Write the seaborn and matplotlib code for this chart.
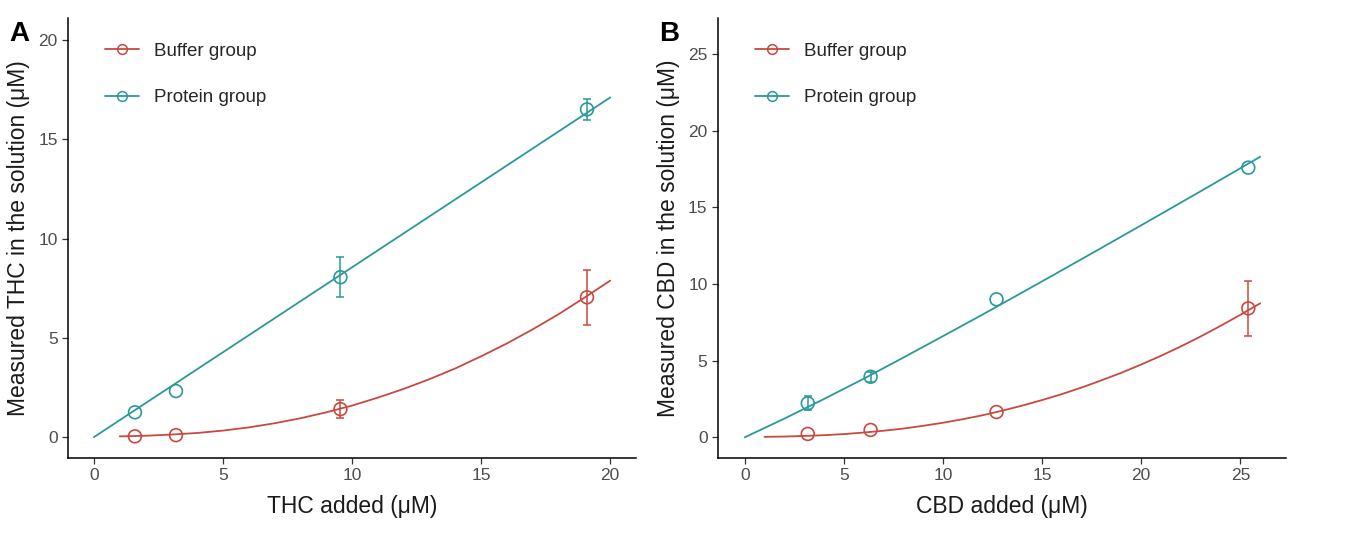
import matplotlib
matplotlib.use("Agg")
import matplotlib.pyplot as plt
from matplotlib.lines import Line2D
import seaborn as sns

# panel A - THC, measured points (mean +/- error, 0 = bar hidden by the marker)
thc_added = [1.59, 3.18, 9.55, 19.1]
thc_buffer = [0.04, 0.10, 1.41, 7.04]
thc_buffer_err = [0, 0, 0.46, 1.37]
thc_protein = [1.25, 2.32, 8.05, 16.5]
thc_protein_err = [0, 0, 1.00, 0.54]

# panel A - fitted curves
thc_fit_buffer_x = list(range(1, 21))
thc_fit_buffer_y = [0.04, 0.07, 0.13, 0.21, 0.33, 0.49, 0.70, 0.95, 1.25, 1.59,
                    1.99, 2.43, 2.92, 3.46, 4.07, 4.72, 5.43, 6.19, 7.02, 7.88]
thc_fit_protein_x = [0, 20]
thc_fit_protein_y = [0, 17.1]

# panel B - CBD, measured points
cbd_added = [3.18, 6.35, 12.7, 25.4]
cbd_buffer = [0.22, 0.48, 1.65, 8.41]
cbd_buffer_err = [0, 0, 0, 1.77]
cbd_protein = [2.22, 3.95, 9.0, 17.59]
cbd_protein_err = [0.45, 0.33, 0, 0]

# panel B - fitted curves
cbd_fit_buffer_x = list(range(1, 27))
cbd_fit_buffer_y = [0.03, 0.05, 0.09, 0.14, 0.21, 0.31, 0.43, 0.57, 0.75, 0.95,
                    1.18, 1.44, 1.74, 2.07, 2.43, 2.82, 3.25, 3.72, 4.21, 4.75,
                    5.32, 5.93, 6.58, 7.27, 7.99, 8.74]
cbd_fit_protein_x = [0, 2, 4, 6, 8, 10, 12, 14, 16, 18, 20, 22, 24, 26]
cbd_fit_protein_y = [0, 1.22, 2.50, 3.82, 5.20, 6.60, 8.01, 9.45, 10.90,
                     12.36, 13.83, 15.31, 16.80, 18.30]

group_names = ["Buffer group", "Protein group"]
red = "#C8493F"
teal = "#2A989C"

sns.set_theme(style="ticks")
plt.rcParams["font.family"] = ["Liberation Sans", "DejaVu Sans"]

fig = plt.figure(figsize=(13.45, 5.41), dpi=100)


def draw_bars(ax, x, y, err, color):
    # only the bars that stick out of the circles
    keep = [i for i in range(len(x)) if err[i] > 0]
    ax.errorbar([x[i] for i in keep], [y[i] for i in keep], yerr=[err[i] for i in keep],
                fmt="none", ecolor=color, elinewidth=1.1, capsize=3.2, capthick=1.1)


def draw_panel(ax, x, buf, buf_err, prot, prot_err, fbx, fby, fpx, fpy,
               xlabel, ylabel, ticks, lim, letter):
    sns.lineplot(x=fbx, y=fby, color=red, linewidth=1.3, ax=ax)
    sns.lineplot(x=fpx, y=fpy, color=teal, linewidth=1.3, ax=ax)
    draw_bars(ax, x, buf, buf_err, red)
    draw_bars(ax, x, prot, prot_err, teal)
    sns.scatterplot(x=x, y=buf, marker="o", s=85, facecolors="none", edgecolor=red, linewidth=1.2, ax=ax, zorder=5)
    sns.scatterplot(x=x, y=prot, marker="o", s=85, facecolors="none", edgecolor=teal, linewidth=1.2, ax=ax, zorder=5)

    ax.set_xlim(lim[0])
    ax.set_ylim(lim[1])
    ax.set_xticks(ticks)
    ax.set_yticks(ticks)
    ax.set_xlabel(xlabel, fontsize=16.5, color="#1a1a1a", labelpad=8)
    ax.set_ylabel(ylabel, fontsize=16.5, color="#1a1a1a", labelpad=6)
    ax.tick_params(direction="out", length=4, width=0.9, color="#333333",
                   labelcolor="#4D4D4D", labelsize=12.5)
    sns.despine(ax=ax)
    for s in ["left", "bottom"]:
        ax.spines[s].set_linewidth(1.1)
        ax.spines[s].set_color("black")

    handles = [
        Line2D([0], [0], color=red, lw=1.3, marker="o", markersize=7, markerfacecolor="none", markeredgewidth=1.1),
        Line2D([0], [0], color=teal, lw=1.3, marker="o", markersize=7, markerfacecolor="none", markeredgewidth=1.1),
    ]
    ax.legend(handles, group_names, loc="upper left", bbox_to_anchor=(0.035, 0.982), frameon=False,
              fontsize=13.5, labelspacing=1.55, handlelength=1.85, handletextpad=0.8)

    pos = ax.get_position()
    fig.text(pos.x0 - 0.044, 0.925, letter, fontsize=20, fontweight="bold", color="black")


ax_a = fig.add_axes([0.0506, 0.1534, 0.4223, 0.8133])
draw_panel(ax_a, thc_added, thc_buffer, thc_buffer_err, thc_protein, thc_protein_err,
           thc_fit_buffer_x, thc_fit_buffer_y, thc_fit_protein_x, thc_fit_protein_y,
           "THC added (μM)", "Measured THC in the solution (μM)",
           [0, 5, 10, 15, 20], ((-1, 21), (-1.05, 21.1)), "A")

ax_b = fig.add_axes([0.5338, 0.1534, 0.4223, 0.8133])
draw_panel(ax_b, cbd_added, cbd_buffer, cbd_buffer_err, cbd_protein, cbd_protein_err,
           cbd_fit_buffer_x, cbd_fit_buffer_y, cbd_fit_protein_x, cbd_fit_protein_y,
           "CBD added (μM)", "Measured CBD in the solution (μM)",
           [0, 5, 10, 15, 20, 25], ((-1.35, 27.3), (-1.35, 27.35)), "B")

fig.savefig("out.png", dpi=100)
